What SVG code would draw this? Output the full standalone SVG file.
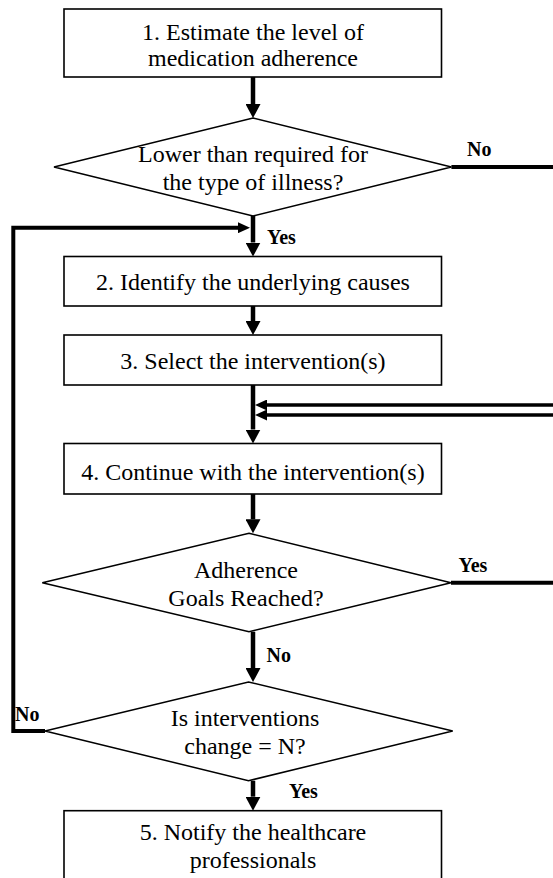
<svg xmlns="http://www.w3.org/2000/svg" width="553" height="878" viewBox="0 0 553 878">
<style>
.box{fill:#fff;stroke:#000;stroke-width:1.6}
.dia{fill:#fff;stroke:#000;stroke-width:1.5}
.t{font-family:"Liberation Serif","Times New Roman",serif;font-size:24px;fill:#000;text-anchor:middle}
.lb{font-family:"Liberation Serif","Times New Roman",serif;font-size:20px;font-weight:bold;fill:#000}
.c{fill:none;stroke:#000;stroke-width:4.5}
.cl{fill:none;stroke:#000;stroke-width:4}
.cd{fill:none;stroke:#000;stroke-width:3.4}
</style>
<defs>
<marker id="ah" markerWidth="14" markerHeight="15" refX="0" refY="7.5" orient="auto" markerUnits="userSpaceOnUse"><path d="M0,0 L14,7.5 L0,15 z" fill="#000"/></marker>
<marker id="as" markerWidth="12" markerHeight="11" refX="0" refY="5.5" orient="auto" markerUnits="userSpaceOnUse"><path d="M0,0 L12,5.5 L0,11 z" fill="#000"/></marker>
</defs>
<g id="connectors">
<path class="c" d="M253,77 V104" marker-end="url(#ah)"/>
<path class="c" d="M253,216 V242.5" marker-end="url(#ah)"/>
<path class="cl" d="M45,731 H13.3 V227.7 H238" marker-end="url(#as)"/>
<path class="c" d="M253,306 V321" marker-end="url(#ah)"/>
<path class="c" d="M253,385 V429.5" marker-end="url(#ah)"/>
<path class="cd" d="M553,405 H267" marker-end="url(#as)"/>
<path class="cd" d="M553,415 H267" marker-end="url(#as)"/>
<path class="c" d="M253,494 V519.3" marker-end="url(#ah)"/>
<path class="cl" d="M451.4,167 H553"/>
<path class="cl" d="M451,582.7 H553"/>
<path class="c" d="M253,631.7 V668" marker-end="url(#ah)"/>
<path class="c" d="M253,780.7 V796.7" marker-end="url(#ah)"/>
</g>
<g id="node1">
<rect class="box" x="64" y="9" width="377.5" height="68"/>
<text class="t" x="253" y="39.5">1. Estimate the level of</text>
<text class="t" x="253" y="66">medication adherence</text>
</g>
<g id="decision1">
<polygon class="dia" points="253,118 451.4,167 253,216 54,167"/>
<text class="t" x="253" y="161.5">Lower than required for</text>
<text class="t" x="253" y="189.5">the type of illness?</text>
</g>
<g id="node2">
<rect class="box" x="64" y="256.5" width="377.5" height="49.5"/>
<text class="t" x="253" y="290">2. Identify the underlying causes</text>
</g>
<g id="node3">
<rect class="box" x="64" y="335" width="377.5" height="50"/>
<text class="t" x="253" y="369">3. Select the intervention(s)</text>
</g>
<g id="node4">
<rect class="box" x="64" y="443.5" width="377.5" height="50.5"/>
<text class="t" x="253" y="480">4. Continue with the intervention(s)</text>
</g>
<g id="decision2">
<polygon class="dia" points="249,533.3 451,582.7 249,631.7 42.3,582.7"/>
<text class="t" x="246" y="578">Adherence</text>
<text class="t" x="246" y="606">Goals Reached?</text>
</g>
<g id="decision3">
<polygon class="dia" points="248.5,682 452.7,731 248.5,780.7 45,731"/>
<text class="t" x="245" y="726">Is interventions</text>
<text class="t" x="245" y="753.5">change = N?</text>
</g>
<g id="node5">
<rect class="box" x="64" y="810.7" width="377.5" height="80"/>
<text class="t" x="253" y="840">5. Notify the healthcare</text>
<text class="t" x="253" y="867.5">professionals</text>
</g>
<g id="labels">
<text class="lb" x="467" y="155.7">No</text>
<text class="lb" x="267" y="244">Yes</text>
<text class="lb" x="458.5" y="571.7">Yes</text>
<text class="lb" x="266.5" y="661.7">No</text>
<text class="lb" x="15" y="721">No</text>
<text class="lb" x="289" y="798">Yes</text>
</g>
</svg>
